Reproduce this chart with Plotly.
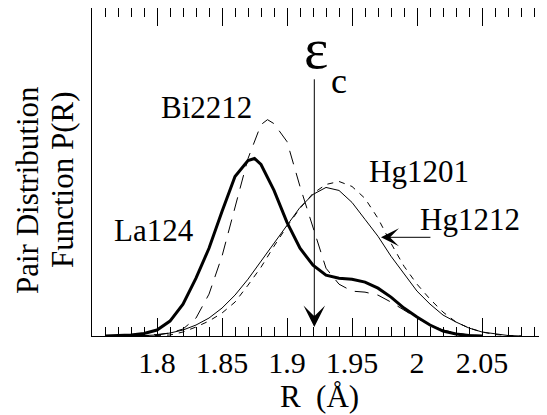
import plotly.graph_objects as go

# R grid (Angstrom) and pair distribution values (arbitrary units)
R_la = [1.76, 1.77, 1.78, 1.79, 1.80, 1.81, 1.82, 1.83, 1.84, 1.85, 1.86, 1.87, 1.875, 1.88, 1.89,
        1.90, 1.91, 1.92, 1.93, 1.94, 1.95, 1.96, 1.97, 1.98, 1.99, 2.00, 2.01, 2.02, 2.03, 2.04, 2.05]
P_la124 = [0, 0.5, 1, 2.5, 6, 15, 32, 58, 88, 125, 160, 176, 178, 172, 146,
           114, 88, 71, 61, 58, 57, 54, 48, 39, 28, 19, 11, 5, 2, 0.5, 0]

R_bi = [1.78, 1.79, 1.80, 1.81, 1.82, 1.83, 1.84, 1.85, 1.86, 1.87, 1.88, 1.885, 1.89, 1.90,
        1.91, 1.92, 1.93, 1.94, 1.95, 1.96, 1.97, 1.98, 1.99, 2.00, 2.01, 2.02, 2.03, 2.04, 2.05]
P_bi2212 = [0, 0.5, 1.5, 3, 7, 18, 42, 80, 128, 178, 212, 217, 213, 195,
            150, 110, 68, 52, 45, 44, 41, 34, 26, 18, 11, 6, 3, 1, 0]

R_hg = [1.78, 1.79, 1.80, 1.81, 1.82, 1.83, 1.84, 1.85, 1.86, 1.87, 1.88, 1.89, 1.90, 1.91, 1.92,
        1.93, 1.94, 1.95, 1.96, 1.97, 1.98, 1.99, 2.00, 2.01, 2.02, 2.03, 2.04, 2.05, 2.06, 2.07, 2.08]
P_hg1201 = [0, 0.5, 1, 3, 6, 11, 18, 28, 41, 57, 75, 93, 112, 129, 142,
            149, 146, 134, 117, 100, 80, 62, 45, 32, 21, 14, 8, 4, 2, 0.5, 0]
P_hg1212 = [0, 0, 0.5, 1, 4, 9, 15, 23, 34, 51, 69, 90, 110, 128, 143,
            152, 155, 150, 138, 118, 93, 70, 52, 37, 24, 14, 8, 4, 1.5, 0.5, 0]

major_ticks = [1.8, 1.85, 1.9, 1.95, 2.0, 2.05]
major_labels = ["1.8", "1.85", "1.9", "1.95", "2", "2.05"]

eps_c = 1.921

FONT = "Liberation Serif, Times New Roman, Times, serif"

# page body has an 8px margin: figure is offset by (8, 8) inside the window
OFF = 8
W, H = 547 - OFF, 415 - OFF
ml, mr, mt, mb = 92 - OFF, 0, 0, 415 - 336

fig = go.Figure()
fig.add_trace(go.Scatter(x=R_hg, y=P_hg1201, mode="lines", name="Hg1201",
                         line=dict(color="black", width=1)))
fig.add_trace(go.Scatter(x=R_hg, y=P_hg1212, mode="lines", name="Hg1212",
                         line=dict(color="black", width=1, dash="6px,6px")))
fig.add_trace(go.Scatter(x=R_bi, y=P_bi2212, mode="lines", name="Bi2212",
                         line=dict(color="black", width=1, dash="14px,9px")))
fig.add_trace(go.Scatter(x=R_la, y=P_la124, mode="lines", name="La124",
                         line=dict(color="black", width=3)))

ann = []
# epsilon_c arrow
ann.append(dict(x=eps_c, y=9, ax=eps_c, ay=259, xref="x", yref="y", axref="x", ayref="y",
                showarrow=True, arrowhead=3, arrowsize=3.6, arrowwidth=1, arrowcolor="black", text=""))
ann.append(dict(x=1.9223, y=288, xref="x", yref="y", text="ε", showarrow=False,
                xanchor="center", yanchor="middle",
                font=dict(family=FONT, size=58, color="black")))
ann.append(dict(x=1.94, y=256, xref="x", yref="y", text="c", showarrow=False,
                xanchor="center", yanchor="middle",
                font=dict(family=FONT, size=36, color="black")))
# Hg1212 pointer arrow
ann.append(dict(x=1.9723, y=99, ax=2.0115, ay=99, xref="x", yref="y", axref="x", ayref="y",
                showarrow=True, arrowhead=3, arrowsize=3.0, arrowwidth=1, arrowcolor="black", text=""))
labels = [("Bi2212", 1.8377, 229), ("La124", 1.7977, 106), ("Hg1201", 2.0015, 165), ("Hg1212", 2.0408, 117)]
for t, x, y in labels:
    ann.append(dict(x=x, y=y, xref="x", yref="y", text=t, showarrow=False,
                    xanchor="center", yanchor="middle",
                    font=dict(family=FONT, size=31, color="black")))
# y-axis title (two lines), positions in window pixels
ytitle = [("Pair Distribution", 27, 190), ("Function P(R)", 62, 180)]
for t, px, py in ytitle:
    ann.append(dict(x=(px - OFF - ml) / (W - ml - mr), y=1 - (py - OFF - mt) / (H - mt - mb),
                    xref="paper", yref="paper", text=t, showarrow=False,
                    xanchor="center", yanchor="middle", textangle=-90,
                    font=dict(family=FONT, size=31, color="black")))

fig.update_layout(
    width=W, height=H,
    margin=dict(l=ml, r=mr, t=mt, b=mb, pad=0),
    paper_bgcolor="white", plot_bgcolor="white",
    showlegend=False,
    font=dict(family=FONT, color="black"),
    annotations=ann,
    xaxis=dict(range=[1.75, 2.1], tickmode="array", tickvals=major_ticks, ticktext=major_labels,
               ticks="inside", ticklen=18, tickwidth=1, tickcolor="black",
               showline=True, linecolor="black", linewidth=1, mirror="ticks",
               showgrid=False, zeroline=False, automargin=False,
               tickfont=dict(family=FONT, size=30, color="black"),
               minor=dict(tick0=1.75, dtick=0.01, ticks="inside", ticklen=9, tickwidth=1, tickcolor="black",
                          showgrid=False),
               title=dict(text="R  (Å)", font=dict(family=FONT, size=31, color="black"), standoff=0)),
    yaxis=dict(range=[0, 329], showticklabels=False, ticks="", showgrid=False, zeroline=False,
               showline=True, linecolor="black", linewidth=1, mirror=False, automargin=False),
)

fig.write_html("out.html")
